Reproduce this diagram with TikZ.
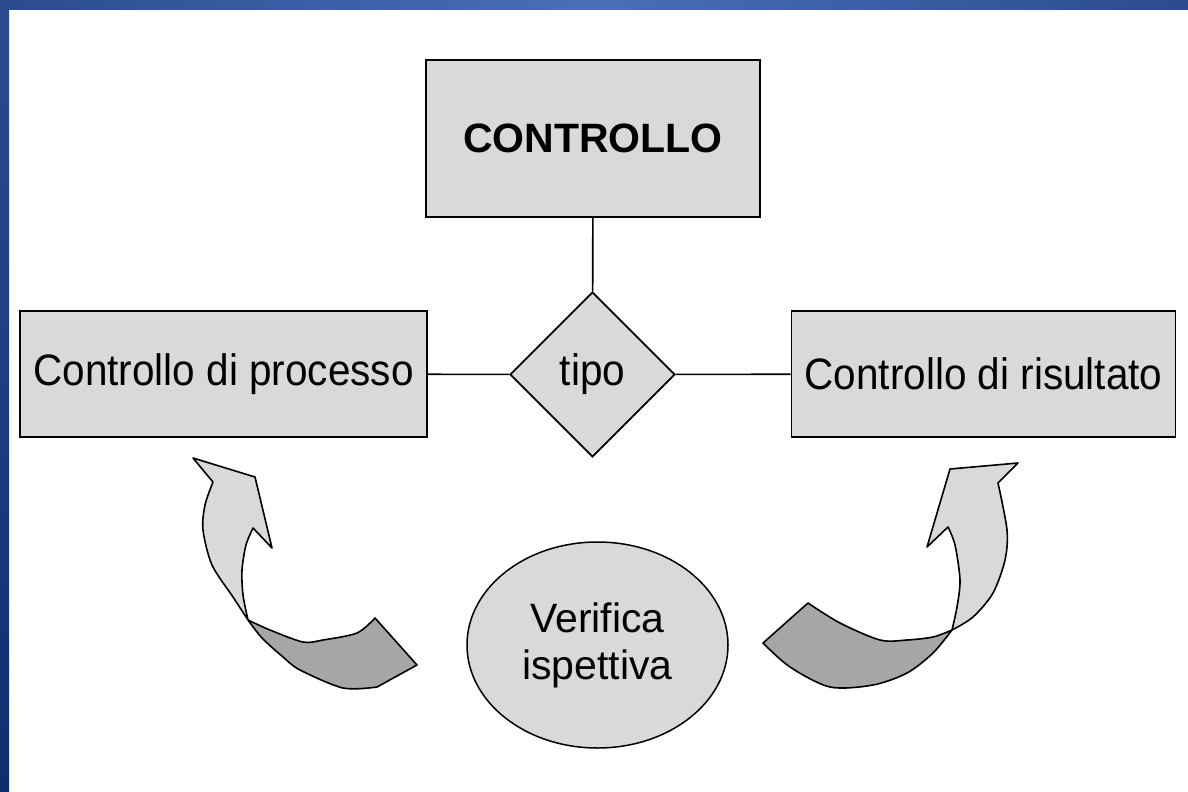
\documentclass[tikz,border=0pt]{standalone}
\usepackage{fontspec}
\setmainfont{Liberation Sans}
\newfontfamily\narrowfont[FakeStretch=0.92]{Liberation Sans}
\usetikzlibrary{shapes.geometric}
\definecolor{boxgray}{HTML}{D9D9D9}
\definecolor{tailgray}{HTML}{A6A6A6}
\definecolor{slidedark}{HTML}{2A4C8E}
\definecolor{slidelight}{HTML}{4C6EB8}
\definecolor{slidedeep}{HTML}{0E2E6E}
\tikzset{
  shape box/.style={draw, fill=boxgray, line width=1.8pt, inner sep=0pt,
    font=\fontsize{41}{47}\selectfont},
  entity/.style={shape box, rectangle, font=\narrowfont\fontsize{44}{50}\selectfont},
  relation/.style={shape box, diamond, minimum width=165pt, minimum height=165pt,
    font=\narrowfont\fontsize{44}{50}\selectfont},
  check/.style={shape box, ellipse, line width=1.5pt, align=center,
    minimum width=261pt, minimum height=206pt},
  light part/.style={fill=boxgray, draw, line width=1.6pt, line join=round},
  dark part/.style={fill=tailgray, draw, line width=1.6pt, line join=round}
}
\begin{document}
\begin{tikzpicture}[x=1pt,y=-1pt]
  \useasboundingbox (0,0) rectangle (1188,792);
  % slide frame
  \shade[left color=slidedark, right color=slidedark, middle color=slidelight]
    (0,0) rectangle (1188,10);
  \shade[top color=slidedark, bottom color=slidedeep] (0,0) rectangle (9,792);
  \draw
    (593,138.5) node[entity, minimum width=334pt, minimum height=157pt,
      font=\fontsize{41}{47}\selectfont\bfseries] (controllo){CONTROLLO}
    (223.5,374) node[entity, minimum width=407pt, minimum height=126pt] (processo){Controllo di processo}
    (592.5,374.5) node[relation] (tipo){tipo}
    (983.5,374) node[entity, minimum width=384pt, minimum height=126pt] (risultato){Controllo di risultato}
    (597.5,645) node[check] (verifica){Verifica\\ispettiva};
  \begin{scope}[line width=1.6pt]
    \draw (controllo) to (tipo);
    \draw (processo) to (tipo);
    \draw (tipo) to (risultato);
  \end{scope}
  % left curved arrow
  \draw[dark part] (248,620) -- plot[smooth] coordinates {(248,620) (262,638) (283,657) (300,670) (343,688) (377,687)}
    -- (417,665) -- (375,618)
    -- plot[smooth] coordinates {(375,618) (357,633) (323,640) (303,642) (270,630) (248,620)} -- cycle;
  \draw[light part] (248,620) -- plot[smooth] coordinates {(248,620) (233,597) (212,565) (203,530) (205,505) (213,482)}
    -- (193,458) -- (255,477) -- (272,548) -- (253,528)
    -- plot[smooth] coordinates {(253,528) (246,545) (242,570) (243,595) (248,620)} -- cycle;
  % right curved arrow
  \draw[dark part] (952,630) -- plot[smooth] coordinates {(952,630) (933,653) (907,673) (873,685) (830,687) (790,667) (763,643)}
    -- (808,603)
    -- plot[smooth] coordinates {(808,603) (840,623) (880,640) (907,640) (933,637) (952,630)} -- cycle;
  \draw[light part] (952,630) -- plot[smooth] coordinates {(952,630) (973,617) (993,593) (1005,560) (1007,530) (998,483)}
    -- (1018,463) -- (950,469) -- (927,547) -- (948,527)
    -- plot[smooth] coordinates {(948,527) (955,545) (960,580) (957,607) (952,630)} -- cycle;
\end{tikzpicture}
\end{document}
